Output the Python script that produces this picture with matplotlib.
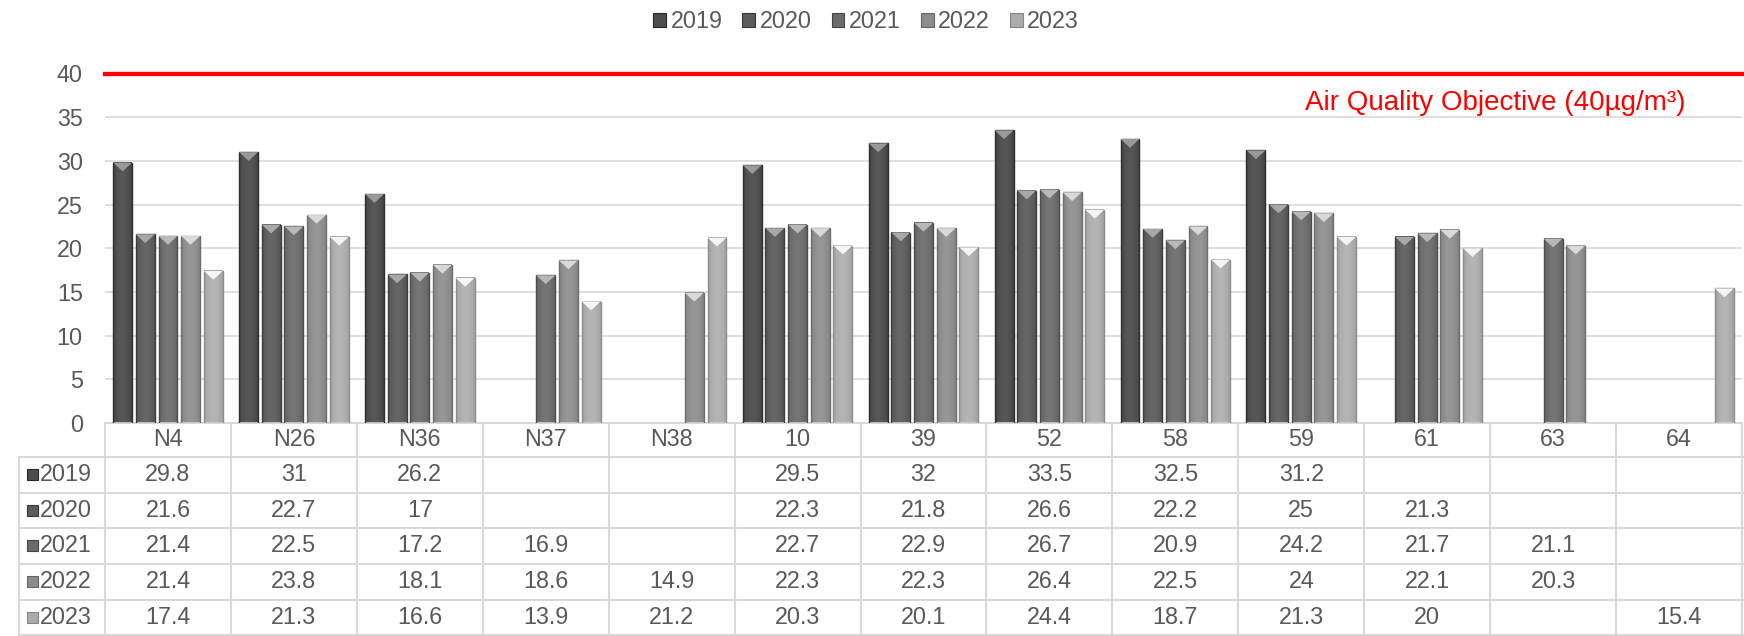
import numpy as np
import matplotlib.pyplot as plt
from matplotlib.patches import Rectangle, Polygon, Patch
from matplotlib.lines import Line2D
from matplotlib import transforms

plt.rcParams['font.family'] = ['Liberation Sans', 'DejaVu Sans']

nan = np.nan
sites = ["N4", "N26", "N36", "N37", "N38", "10", "39", "52", "58", "59", "61", "63", "64"]
years = ["2019", "2020", "2021", "2022", "2023"]
no2_2019 = [29.8, 31, 26.2, nan, nan, 29.5, 32, 33.5, 32.5, 31.2, nan, nan, nan]
no2_2020 = [21.6, 22.7, 17, nan, nan, 22.3, 21.8, 26.6, 22.2, 25, 21.3, nan, nan]
no2_2021 = [21.4, 22.5, 17.2, 16.9, nan, 22.7, 22.9, 26.7, 20.9, 24.2, 21.7, 21.1, nan]
no2_2022 = [21.4, 23.8, 18.1, 18.6, 14.9, 22.3, 22.3, 26.4, 22.5, 24, 22.1, 20.3, nan]
no2_2023 = [17.4, 21.3, 16.6, 13.9, 21.2, 20.3, 20.1, 24.4, 18.7, 21.3, 20, nan, 15.4]
objective = 40

series = [no2_2019, no2_2020, no2_2021, no2_2022, no2_2023]
greys = [0.30, 0.36, 0.42, 0.55, 0.67]

W, H = 1744, 636
TXT = '#595959'
GRID = '#d9d9d9'
FS = 16.8


def fx(px):
    return px / W


def fy(py):
    return 1 - py / H


fig = plt.figure(figsize=(W / 100, H / 100), dpi=100)
ax = fig.add_axes([fx(105), fy(423), fx(1742) - fx(105), fy(73.5) - fy(423)])

# bars with a soft bevel look
bar_w = 0.15
step = 0.18
t = np.linspace(0, 1, 40)
profile = 0.07 * np.sin(np.pi * t) - 0.03
for j, vals in enumerate(series):
    g = greys[j]
    for i, v in enumerate(vals):
        if np.isnan(v):
            continue
        x0 = i + (j - 2) * step - bar_w / 2
        shade = np.clip(g + profile, 0, 1)
        img = np.repeat(shade[None, :, None], 3, axis=2)
        ax.imshow(img, extent=[x0, x0 + bar_w, 0, v], aspect='auto',
                  interpolation='bilinear', zorder=2)
        ax.add_patch(Rectangle((x0, 0), bar_w, v, fill=False,
                               edgecolor=str(max(g - 0.12, 0)), lw=1, zorder=3))
        tip = min(g + 0.3, 0.96)
        ax.add_patch(Polygon([(x0, v), (x0 + bar_w, v), (x0 + bar_w / 2, v - 1.0)],
                             closed=True, facecolor=str(tip), edgecolor='none', zorder=3))

ax.set_xlim(-0.5, len(sites) - 0.5)
ax.set_ylim(0, 40)
ax.set_yticks(range(0, 41, 5))
ax.set_xticks([])
ax.tick_params(axis='y', length=0, pad=16, labelsize=FS, labelcolor=TXT)
ax.yaxis.grid(True, color=GRID, lw=1.2, zorder=0)
ax.set_axisbelow(True)
for s in ['left', 'top', 'right']:
    ax.spines[s].set_visible(False)
ax.spines['bottom'].set_color(GRID)
ax.spines['bottom'].set_linewidth(1.5)

ax.axhline(objective, color='#ff0000', lw=3.1, clip_on=False, zorder=5)
fig.text(fx(1685), fy(103), "Air Quality Objective (40µg/m³)", color='#ff0000',
         fontsize=20, ha='right', va='center')

# data table under the axis
blend = transforms.blended_transform_factory(ax.transData, fig.transFigure)
row_edges = [423, 457, 492.5, 528, 563.5, 599.5, 635]
for i in range(len(sites) + 1):
    fig.add_artist(Line2D([i - 0.5, i - 0.5], [fy(423), fy(636)], color=GRID,
                          lw=1.5, transform=blend))
fig.add_artist(Line2D([fx(19), fx(19)], [fy(457), fy(636)], color=GRID, lw=1.5,
                      transform=fig.transFigure))
for k, ry in enumerate(row_edges[1:]):
    fig.add_artist(Line2D([fx(19), fx(1744)], [fy(ry), fy(ry)], color=GRID, lw=1.5,
                          transform=fig.transFigure))

for i, name in enumerate(sites):
    fig.text(i, fy(440), name, transform=blend, ha='center', va='center',
             fontsize=FS, color=TXT)

for j, vals in enumerate(series):
    yc = fy((row_edges[j + 1] + row_edges[j + 2]) / 2)
    g = greys[j]
    fig.add_artist(Rectangle((fx(27), yc - 5.5 / H), 11 / W, 11 / H,
                             facecolor=str(g), edgecolor=str(max(g - 0.15, 0)),
                             lw=0.8, transform=fig.transFigure))
    fig.text(fx(40), yc, years[j], ha='left', va='center', fontsize=FS, color=TXT)
    for i, v in enumerate(vals):
        if np.isnan(v):
            continue
        fig.text(i, yc, f"{v:g}", transform=blend, ha='center', va='center',
                 fontsize=FS, color=TXT)

handles = [Patch(facecolor=str(g), edgecolor=str(max(g - 0.15, 0)), lw=0.8) for g in greys]
fig.legend(handles, years, loc='center', bbox_to_anchor=(fx(866), fy(22)), ncol=5,
           frameon=False, fontsize=FS, labelcolor=TXT, handlelength=0.55,
           handleheight=0.55, handletextpad=0.2, columnspacing=0.85)

fig.savefig('out.png', dpi=100)
